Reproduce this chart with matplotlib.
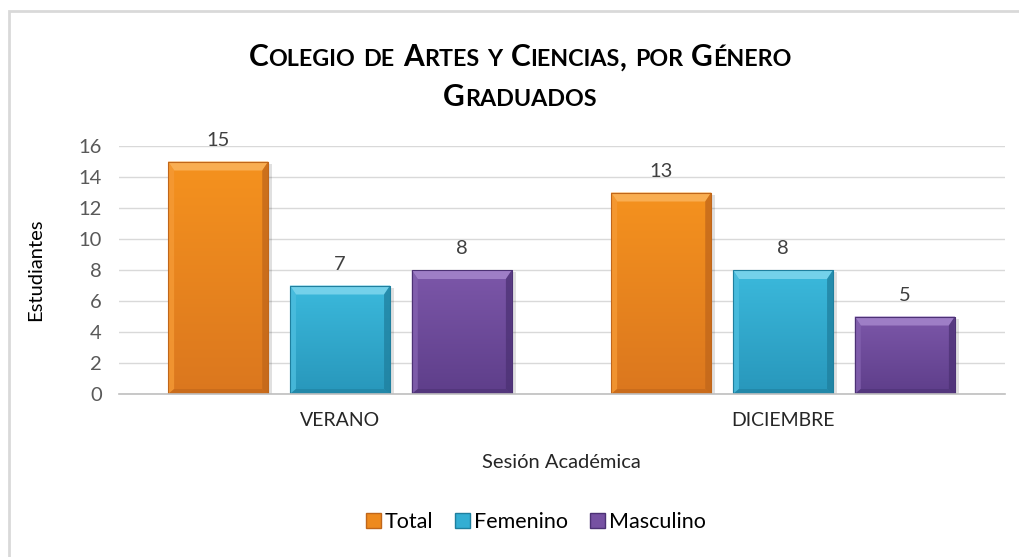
import numpy as np
import matplotlib
matplotlib.use("Agg")
import matplotlib.pyplot as plt
from matplotlib.patches import Polygon, Rectangle, Patch
from matplotlib.offsetbox import TextArea, HPacker, VPacker, AnnotationBbox
from matplotlib.colors import LinearSegmentedColormap

# ---- data ----
categories = ["VERANO", "DICIEMBRE"]
series_names = ["Total", "Femenino", "Masculino"]
total = [15, 13]
femenino = [7, 8]
masculino = [8, 5]
series_values = [total, femenino, masculino]
yticks = [0, 2, 4, 6, 8, 10, 12, 14, 16]
title_lines = ["Colegio de Artes y Ciencias, por Género", "Graduados"]
xlabel = "Sesión Académica"
ylabel = "Estudiantes"

# ---- style ----
FONT = "Lato"
plt.rcParams['font.family'] = [FONT, 'DejaVu Sans']
base_colors = ["#EE8A1E", "#33AED3", "#7651A2"]
top_colors = ["#F9AE52", "#74D1EA", "#9E7EC6"]
light_side = ["#F59A35", "#4DBEDF", "#8462B0"]
dark_side = ["#C0661A", "#1F7F9E", "#4C3174"]
grad_top = ["#F5921F", "#3BB9DC", "#7C57A9"]
grad_bot = ["#DB771E", "#2897BB", "#5E3E8A"]

W, H = 1019, 557
fig = plt.figure(figsize=(W / 100, H / 100), dpi=100)
ax = fig.add_axes([118.5 / W, (H - 394) / H, 886 / W, 248 / H])

x = np.arange(len(categories))
bar_w = 0.226
step = 0.275
offsets = [-step, 0, step]

ax.set_xlim(-0.5, len(categories) - 0.5)
ax.set_ylim(0, 16)

inv = ax.transData.inverted()

def px2data(dxp, dyp):
    p0 = inv.transform((0, 0))
    p1 = inv.transform((dxp, dyp))
    return p1[0] - p0[0], p1[1] - p0[1]

dx, dyt = px2data(6, 9)
_, dyb = px2data(0, 5)
sdx, sdy = px2data(4, 4)

for i, vals in enumerate(series_values):
    bars = ax.bar(x + offsets[i], vals, bar_w, color=base_colors[i],
                  edgecolor=dark_side[i], linewidth=0.6, zorder=3)
    cmap = LinearSegmentedColormap.from_list("g%d" % i, [grad_bot[i], grad_top[i]])
    for b, v in zip(bars, vals):
        x0, y0 = b.get_x(), b.get_y()
        x1, y1 = x0 + b.get_width(), y0 + b.get_height()
        ax.add_patch(Rectangle((x0 + sdx * 0.5, y0), x1 - x0 + sdx * 0.5, y1 - y0 - sdy * 0.5,
                               facecolor="#000000", alpha=0.12, edgecolor="none", zorder=2))
        grad = np.linspace(0, 1, 100).reshape(-1, 1)
        im = ax.imshow(grad, extent=(x0, x1, y0, y1), origin="lower", cmap=cmap,
                       aspect="auto", zorder=3.1, interpolation="bilinear")
        im.set_clip_path(b)
        ax.add_patch(Polygon([(x0, y1), (x1, y1), (x1 - dx, y1 - dyt), (x0 + dx, y1 - dyt)],
                             closed=True, facecolor=top_colors[i], edgecolor="none", zorder=3.2))
        ax.add_patch(Polygon([(x0, y0), (x0, y1), (x0 + dx, y1 - dyt), (x0 + dx, y0 + dyb)],
                             closed=True, facecolor=light_side[i], edgecolor="none", zorder=3.2, alpha=0.8))
        ax.add_patch(Polygon([(x1, y0), (x1, y1), (x1 - dx, y1 - dyt), (x1 - dx, y0 + dyb)],
                             closed=True, facecolor=dark_side[i], edgecolor="none", zorder=3.2, alpha=0.75))
        ax.add_patch(Polygon([(x0, y0), (x1, y0), (x1 - dx, y0 + dyb), (x0 + dx, y0 + dyb)],
                             closed=True, facecolor=dark_side[i], edgecolor="none", zorder=3.2, alpha=0.6))
        ax.add_patch(Rectangle((x0, y0), x1 - x0, y1 - y0, facecolor="none",
                               edgecolor=dark_side[i], linewidth=0.8, zorder=3.3))
        ax.annotate(str(v), (b.get_x() + b.get_width() / 2, v), xytext=(0, 9),
                    textcoords="offset points", ha="center", va="bottom",
                    fontsize=14.5, color="#404040", zorder=4)

ax.set_yticks(yticks)
ax.set_yticklabels([str(t) for t in yticks], fontsize=14.5, color="#595959")
ax.set_xticks(x)
ax.set_xticklabels(categories, fontsize=14, color="#262626")
ax.tick_params(axis="both", length=0)
ax.tick_params(axis="y", pad=12)
ax.tick_params(axis="x", pad=13)
ax.grid(axis="y", color="#D9D9D9", linewidth=1, zorder=0)
ax.set_axisbelow(True)
for s in ["top", "right", "left"]:
    ax.spines[s].set_visible(False)
ax.spines["bottom"].set_color("#BFBFBF")
ax.spines["bottom"].set_linewidth(1.2)
ax.spines["bottom"].set_zorder(3.5)

ax.set_xlabel(xlabel, fontsize=14.5, color="#262626", labelpad=18)
ax.set_ylabel(ylabel, fontsize=14.5, color="#000000", labelpad=25)

# small caps title
def smallcaps_line(text, size, ratio=0.78):
    words = []
    for w in text.split(" "):
        runs = []
        cur, cur_low = "", None
        for ch in w:
            low = ch.islower()
            if cur_low is None or low == cur_low:
                cur += ch
            else:
                runs.append((cur, cur_low))
                cur = ch
            cur_low = low
        if cur:
            runs.append((cur, cur_low))
        children = []
        for r, low in runs:
            fs = size * ratio if low else size
            children.append(TextArea(r.upper(), textprops=dict(fontsize=fs, fontweight="bold",
                                                              family=FONT, color="#000000")))
        words.append(HPacker(children=children, align="baseline", pad=0, sep=0))
    return HPacker(children=words, align="baseline", pad=0, sep=6)

title_box = VPacker(children=[smallcaps_line(t, 21.5) for t in title_lines],
                    align="center", pad=0, sep=8)
ab = AnnotationBbox(title_box, (520 / W, 1 - 77 / H), xycoords="figure fraction",
                    frameon=False, box_alignment=(0.5, 0.5))
fig.add_artist(ab)

# legend
handles = [Patch(facecolor=base_colors[i], edgecolor=dark_side[i], label=series_names[i])
           for i in range(3)]
fig.legend(handles=handles, loc="center", bbox_to_anchor=(536 / W, (H - 522) / H), ncol=3,
           frameon=False, fontsize=15.5, handlelength=0.7, handleheight=0.7,
           handletextpad=0.2, columnspacing=1.0)

# outer chart border
fig.add_artist(Rectangle((9 / W, -0.2), 1.5, 1.2 - 11 / H, transform=fig.transFigure,
                         facecolor="none", edgecolor="#D9D9D9", linewidth=2))

fig.savefig("out.png", dpi=100)
